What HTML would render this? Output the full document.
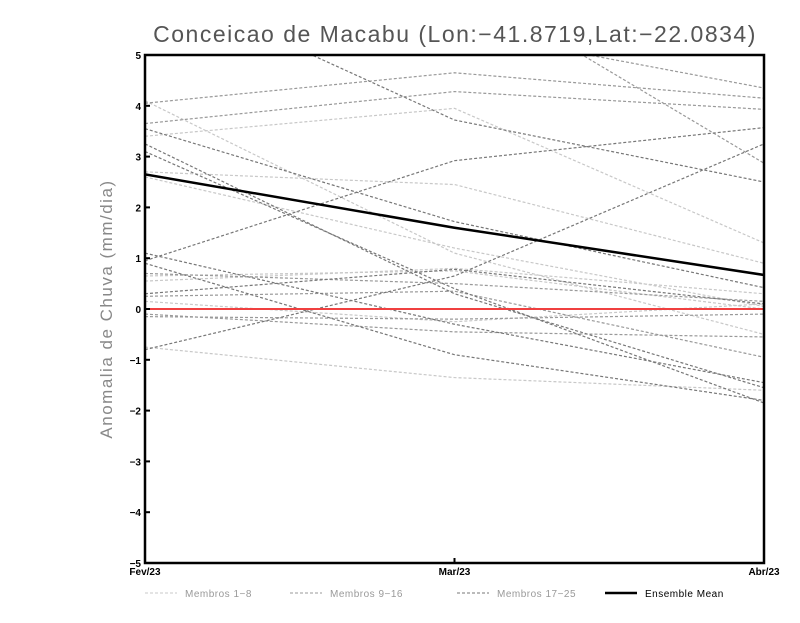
<!DOCTYPE html>
<html><head><meta charset="utf-8"><style>
body{margin:0;background:#fff;width:800px;height:618px;overflow:hidden;font-family:"Liberation Sans",sans-serif}
</style></head><body>
<svg id="chart" width="800" height="618" xmlns="http://www.w3.org/2000/svg">
<text x="455" y="42" text-anchor="middle" font-size="23" fill="#555" font-family="Liberation Sans,sans-serif" letter-spacing="1.5">Conceicao de Macabu (Lon:−41.8719,Lat:−22.0834)</text>
<text transform="translate(112,309) rotate(-90)" text-anchor="middle" font-size="17" fill="#888" letter-spacing="1.5">Anomalia de Chuva (mm/dia)</text>
<g id="series"></g>
<g id="axes"></g>
<g id="legend"></g>
</svg>
<script>
const categories = ["Fev/23","Mar/23","Abr/23"];
const yTicks = [-5,-4,-3,-2,-1,0,1,2,3,4,5];
const membersLight = [[3.4,3.95,1.3],[4.1,1.1,-0.5],[2.7,2.45,0.9],[2.6,1.2,0.05],[-0.75,-1.35,-1.6],[0.65,0.75,0.0],[0.15,-0.25,0.1],[0.55,0.8,0.3]];
const membersMid = [[4.05,4.65,4.15],[3.65,4.28,3.93],[8,6.5,2.87],[-0.1,-0.45,-0.55],[0.25,0.35,-0.95],[0.7,0.5,0.15],[-0.15,-0.2,-0.1],[6,5.5,4.35]];
const membersDark = [[6.5,3.72,2.5],[0.95,2.92,3.57],[-0.8,0.65,3.25],[3.55,1.72,0.42],[3.1,0.4,-1.85],[3.25,0.3,-1.55],[1.1,-0.3,-1.45],[0.9,-0.9,-1.8],[0.3,0.78,0.1]];
const ensembleMean = [2.65,1.6,0.67];

const NS="http://www.w3.org/2000/svg";
const L=145,R=764,T=55,B=563;
const xs=i=>L+(R-L)*i/(categories.length-1);
const ys=v=>B-(v+5)/10*(B-T);
function mk(t,a,p){const e=document.createElementNS(NS,t);for(const k in a)e.setAttribute(k,a[k]);p.appendChild(e);return e;}
const svg=document.getElementById('chart');
const defs=mk('defs',{},svg);
const cp=mk('clipPath',{id:'clip'},defs);mk('rect',{x:L,y:T,width:R-L,height:B-T},cp);
const g=document.getElementById('series');g.setAttribute('clip-path','url(#clip)');
function pts(arr){return arr.map((v,i)=>xs(i)+','+ys(v)).join(' ');}
function drawGroup(data,color,name){data.forEach((d,i)=>{const p=mk('polyline',{points:pts(d),fill:'none',stroke:color,'stroke-width':1.2,'stroke-dasharray':'3,2'},g);

});}
drawGroup(membersLight,'#c8c8c8','member-light');
drawGroup(membersMid,'#999','member-mid');
drawGroup(membersDark,'#777','member-dark');
const z=mk('line',{x1:L,x2:R,y1:ys(0),y2:ys(0),stroke:'#f04040','stroke-width':2},g);


const m=mk('polyline',{points:pts(ensembleMean),fill:'none',stroke:'#000','stroke-width':2.5},g);


const ax=document.getElementById('axes');
const fr=mk('rect',{x:L,y:T,width:R-L,height:B-T,fill:'none',stroke:'#000','stroke-width':2.5},ax);


yTicks.forEach(v=>{mk('line',{x1:L,x2:L+5,y1:ys(v),y2:ys(v),stroke:'#000','stroke-width':2},ax);
const t=mk('text',{x:L-4,y:ys(v)+4,'text-anchor':'end','font-size':10,'font-weight':'bold'},ax);t.textContent=(v<0?'−'+(-v):v);

});
categories.forEach((c,i)=>{mk('line',{x1:xs(i),x2:xs(i),y1:B,y2:B-5,stroke:'#000','stroke-width':2},ax);
const t=mk('text',{x:xs(i),y:B+12,'text-anchor':'middle','font-size':10,'font-weight':'bold'},ax);t.textContent=c;

});
const lg=document.getElementById('legend');
[['Membros 1−8','#c8c8c8',145,1],['Membros 9−16','#999',290,1],['Membros 17−25','#777',457,1],['Ensemble Mean','#000',605,2.5]].forEach(([lab,col,x,w])=>{
const gg=mk('g',{},lg);


mk('line',{x1:x,x2:x+32,y1:593,y2:593,stroke:col,'stroke-width':w,'stroke-dasharray':w>2?'none':'3,2'},gg);
const t=mk('text',{x:x+40,y:597,'font-size':10,fill:w>2?'#000':'#999','letter-spacing':'0.5'},gg);t.textContent=lab;});
</script>
</body></html>
